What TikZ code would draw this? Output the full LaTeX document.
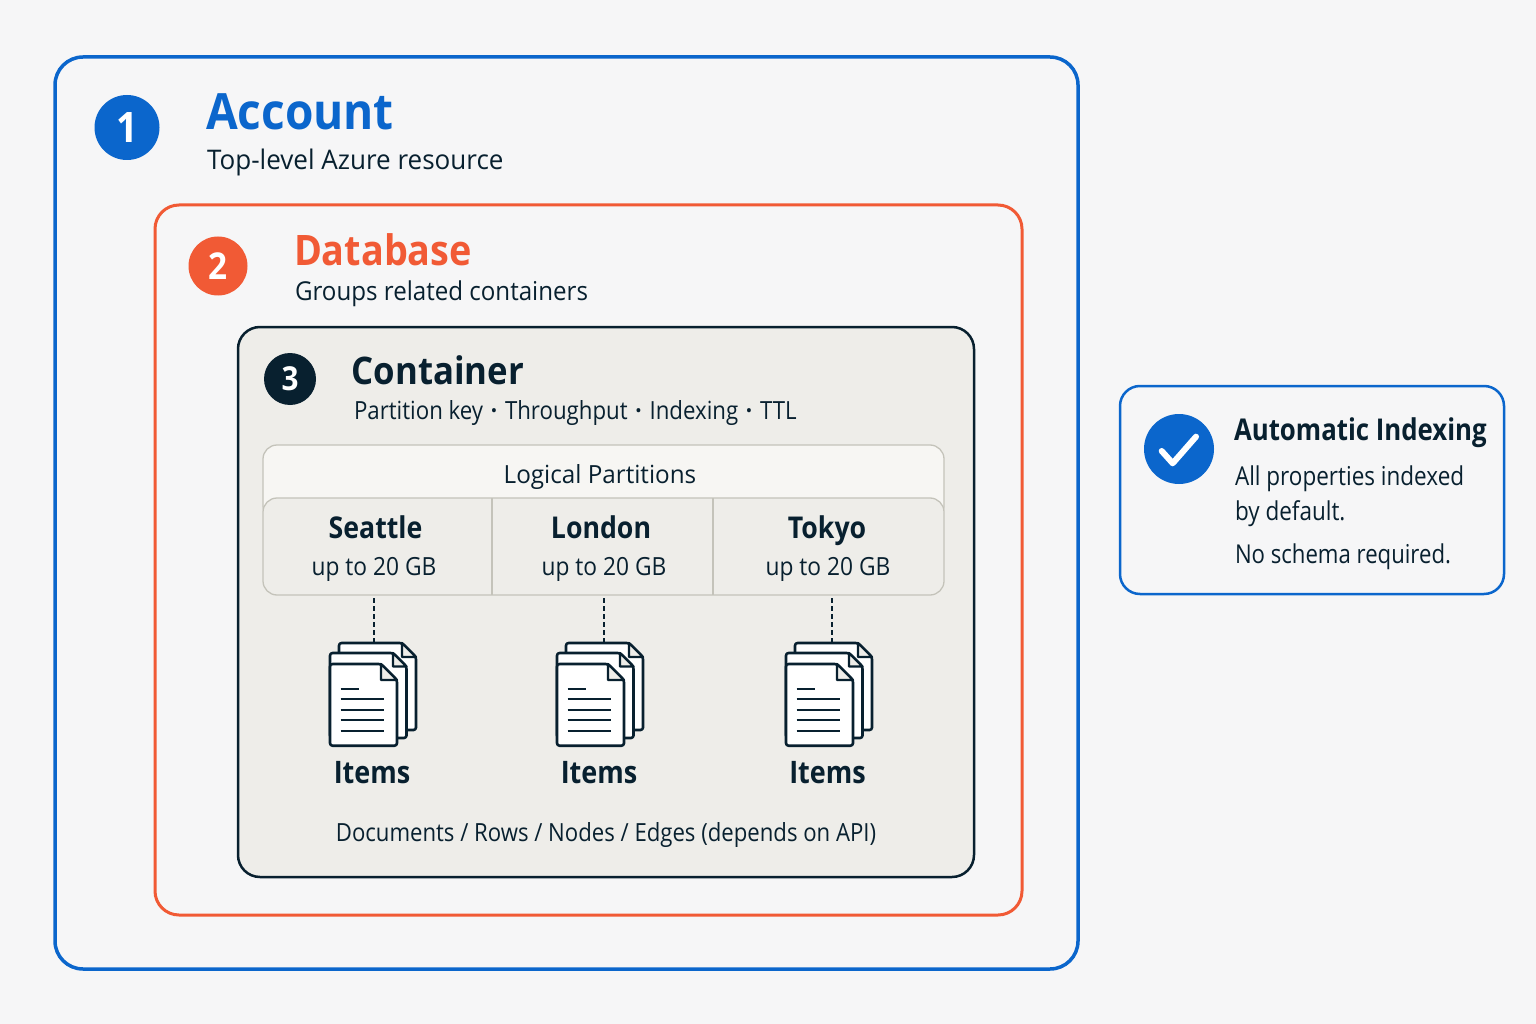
\documentclass[tikz,border=0pt]{standalone}
\usepackage{fontspec}
\setmainfont{Open Sans}
\definecolor{bgc}{HTML}{F6F6F7}
\definecolor{bluec}{HTML}{0B66CC}
\definecolor{orangec}{HTML}{F15A35}
\definecolor{darkc}{HTML}{08202F}
\definecolor{contc}{HTML}{EEEDE9}
\definecolor{headc}{HTML}{F7F6F3}
\definecolor{linec}{HTML}{C4C3BA}
\newcommand{\fs}[2]{\fontsize{#1}{#1}\fontspec[FakeStretch=#2]{Open Sans}}
\newcommand{\sep}{\hspace{0.31em}{\bfseries ·}\hspace{0.31em}}
\tikzset{
 txt/.style={inner sep=0pt,outer sep=0pt,text=darkc},
 lft/.style={txt,anchor=base west},
 ctr/.style={txt,anchor=base},
 badge/.style={circle,inner sep=0pt,text=white},
 page/.style={draw=darkc,line width=2.6pt,fill=white,line join=round,rounded corners=2.5pt},
 foldl/.style={draw=darkc,line width=2.4pt,fill=contc,line join=round},
 tl/.style={draw=darkc,line width=2pt},
 docs/.pic={
  \foreach \l/\t/\f/\r/\b in {9/0/72/86/87,0/10/63/76.5/95,0/21/51/67/102.7}{
   \path[page] (\l,\t) -- (\f,\t) -- (\r,\t+\r-\f) -- (\r,\b) -- (\l,\b) -- cycle;
   \path[foldl] (\f,\t) -- (\f,\t+\r-\f) -- (\r,\t+\r-\f) -- cycle;
  }
  \draw[tl] (10.5,45.5) -- (29,45.5);
  \foreach \y in {56,66.5,77,88}{\draw[tl] (10.5,\y) -- (54,\y);}
 },
 dashc/.style={draw=darkc,line width=2pt,dash pattern=on 4.5pt off 3.5pt}
}
\begin{document}
\begin{tikzpicture}[x=1pt,y=-1pt]
\useasboundingbox (0,0) rectangle (1536,1024);
\fill[bgc] (0,0) rectangle (1536,1024);
\draw[bluec,line width=3.5pt,rounded corners=28pt] (55,57) rectangle (1078,969);
\draw[orangec,line width=3pt,rounded corners=24pt] (155,205) rectangle (1022,915);
\draw[darkc,fill=contc,line width=2.5pt,rounded corners=22pt] (238,327) rectangle (974,877);
% partitions
\draw[linec,fill=headc,line width=1.3pt,rounded corners=14pt] (263,445) rectangle (944,520);
\draw[linec,fill=contc,line width=1.3pt,rounded corners=14pt] (263,498) rectangle (944,595);
\draw[linec,line width=1.3pt] (492,498) -- (492,595) (713,498) -- (713,595);
% badges
\node[badge,fill=bluec,minimum size=65pt] (b1) at (127,127.5) {\fs{42}{0.9}\bfseries 1};
\node[badge,fill=orangec,minimum size=59pt] (b2) at (218,266) {\fs{37}{0.9}\bfseries 2};
\node[badge,fill=darkc,minimum size=52pt] (b3) at (290,379) {\fs{33}{0.9}\bfseries 3};
% headings
\node[lft,text=bluec] (acc) at (206,130) {\fs{50}{0.92}\bfseries Account};
\node[lft] (accs) at (207,170) {\fs{27}{0.965}Top-level Azure resource};
\node[lft,text=orangec] (db) at (294,265.5) {\fs{42}{0.9}\bfseries Database};
\node[lft] (dbs) at (295,300) {\fs{26}{0.928}Groups related containers};
\node[lft] (ct) at (351.5,384) {\fs{38}{0.915}\bfseries Container};
\node[lft] (cts) at (354,419) {\fs{25}{0.89}Partition key\sep Throughput\sep Indexing\sep TTL};
\node[ctr] (lp) at (600,483) {\fs{25}{0.97}Logical Partitions};
% partition cells
\node[ctr] (p1) at (375.5,538) {\fs{30}{0.89}\bfseries Seattle};
\node[ctr] (p2) at (601,538) {\fs{30}{0.89}\bfseries London};
\node[ctr] (p3) at (827,538) {\fs{30}{0.89}\bfseries Tokyo};
\node[ctr] (g1) at (374,575) {\fs{25}{0.91}up to 20 GB};
\node[ctr] (g2) at (604,575) {\fs{25}{0.91}up to 20 GB};
\node[ctr] (g3) at (828,575) {\fs{25}{0.91}up to 20 GB};
% connectors
\coordinate (s1) at (374,598); \coordinate (d1) at (374,643);
\coordinate (s2) at (603.5,598); \coordinate (d2) at (603.5,643);
\coordinate (s3) at (832,598); \coordinate (d3) at (832,643);
% icons
\pic at (330,643) {docs};
\pic at (557,643) {docs};
\pic at (786,643) {docs};
\draw[dashc] (s1) -- (d1);
\draw[dashc] (s2) -- (d2);
\draw[dashc] (s3) -- (d3);
\node[ctr] (i1) at (372,783) {\fs{31}{0.87}\bfseries Items};
\node[ctr] (i2) at (599,783) {\fs{31}{0.87}\bfseries Items};
\node[ctr] (i3) at (827.5,783) {\fs{31}{0.87}\bfseries Items};
\node[ctr] (dn) at (606,841) {\fs{25}{0.886}Documents / Rows / Nodes / Edges (depends on API)};
% callout
\draw[bluec,fill=bgc,line width=2.5pt,rounded corners=20pt] (1120,386) rectangle (1504,594);
\node[circle,fill=bluec,minimum size=70pt,inner sep=0pt] (b4) at (1179,449) {};
\draw[white,line width=6pt,line cap=round,line join=round] (1161.7,451) -- (1172.7,463.3) -- (1196,436.7);
\node[lft] (ai) at (1234,440) {\fs{30}{0.86}\bfseries Automatic Indexing};
\node[lft] (a1) at (1235,485) {\fs{26}{0.865}All properties indexed};
\node[lft] (a2) at (1235,520) {\fs{26}{0.865}by default.};
\node[lft] (a3) at (1235,563) {\fs{26}{0.852}No schema required.};
\end{tikzpicture}
\end{document}
